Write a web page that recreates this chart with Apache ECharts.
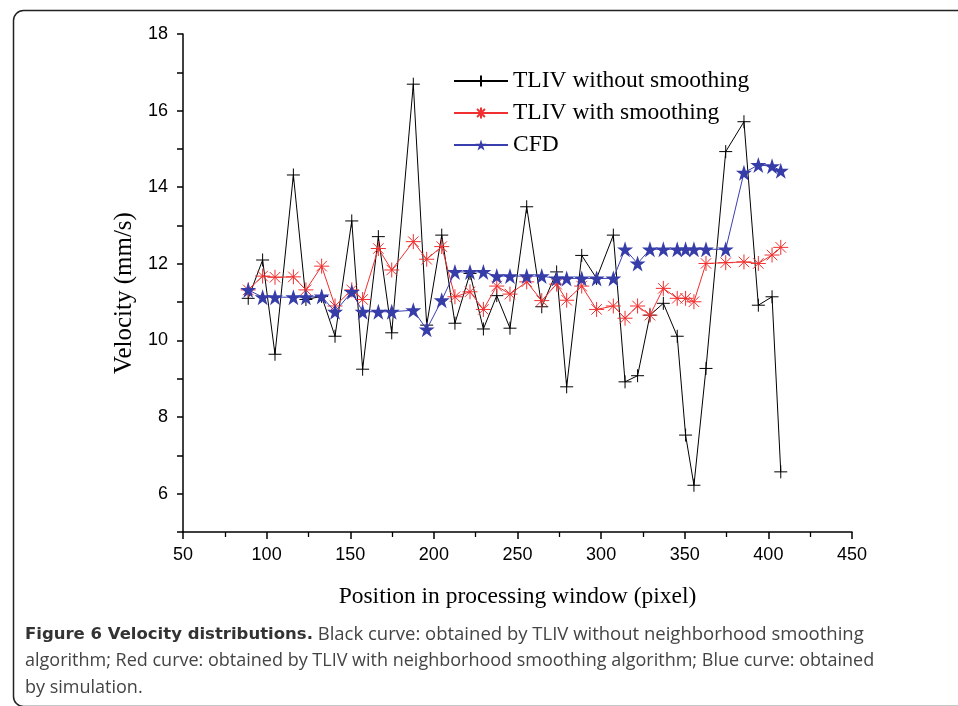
<!DOCTYPE html>
<html>
<head>
<meta charset="utf-8">
<script src="https://cdn.jsdelivr.net/npm/echarts@6/dist/echarts.min.js"></script>
<style>
html,body{margin:0;padding:0;background:#fff;}
#chart{width:958px;height:706px;}
</style>
</head>
<body>
<div id="chart"></div>
<script>
const positions = [89, 97.6, 105, 116, 123.5, 132.9, 140.9, 150.9, 157.4, 166.8, 174.8, 187.7, 195.7, 204.7, 212.6, 221.6, 229.6, 237.6, 245.5, 255.5, 264.5, 273.4, 279.4, 288.4, 297.3, 307.3, 314.3, 321.8, 329.2, 337.2, 345.5, 350.5, 355.5, 362.7, 374.5, 385.4, 394, 402.2, 407.4];
const tlivWithout = [11.10, 12.10, 9.64, 14.32, 11.07, 11.15, 10.11, 13.12, 9.25, 12.71, 10.20, 16.69, 10.40, 12.75, 10.45, 11.75, 10.30, 11.17, 10.32, 13.49, 10.88, 11.79, 8.79, 12.22, 11.62, 12.75, 8.92, 9.08, 10.66, 10.97, 10.11, 7.53, 6.22, 9.27, 14.93, 15.71, 10.92, 11.14, 6.57];
const tlivWith = [11.32, 11.68, 11.65, 11.66, 11.32, 11.94, 10.90, 11.32, 11.07, 12.40, 11.84, 12.58, 12.12, 12.45, 11.14, 11.27, 10.81, 11.42, 11.21, 11.53, 11.04, 11.47, 11.05, 11.42, 10.81, 10.90, 10.58, 10.90, 10.66, 11.36, 11.10, 11.10, 11.01, 12.01, 12.03, 12.05, 12.01, 12.23, 12.43];
const cfd = [11.32, 11.13, 11.13, 11.13, 11.13, 11.15, 10.75, 11.27, 10.75, 10.75, 10.75, 10.79, 10.29, 11.05, 11.79, 11.79, 11.79, 11.68, 11.68, 11.68, 11.68, 11.62, 11.62, 11.62, 11.62, 11.62, 12.38, 12.01, 12.38, 12.38, 12.38, 12.38, 12.38, 12.38, 12.38, 14.38, 14.58, 14.55, 14.43];
const seriesNames = ['TLIV without smoothing', 'TLIV with smoothing', 'CFD'];
const xAxisName = 'Position in processing window (pixel)';
const yAxisName = 'Velocity (mm/s)';
const captionBold = 'Figure 6 Velocity distributions.';
const captionLines = [
  ' Black curve: obtained by TLIV without neighborhood smoothing',
  'algorithm; Red curve: obtained by TLIV with neighborhood smoothing algorithm; Blue curve: obtained',
  'by simulation.'
];

const pair = arr => positions.map((x, i) => [x, arr[i]]);
const plusPath = 'path://M0,10L20,10M10,0L10,20';
const asteriskPath = 'path://M0,10L20,10M10,0L10,20M3,3L17,17M17,3L3,17';
const starPath = 'path://M10,0L12.35,7.25L19.9,7.25L13.8,11.75L16.15,19L10,14.5L3.85,19L6.2,11.75L0.1,7.25L7.65,7.25Z';

const chart = echarts.init(document.getElementById('chart'));
const axisFont = 'Liberation Sans';
const serif = 'Liberation Serif';
const option = {
  backgroundColor: '#fff',
  animation: false,
  grid: {left: 183, top: 34, right: 106, bottom: 174, containLabel: false},
  xAxis: {
    type: 'value', min: 50, max: 450, interval: 50,
    name: xAxisName, nameLocation: 'middle', nameGap: 53,
    nameTextStyle: {fontFamily: serif, fontSize: 23.5, color: '#000'},
    axisLine: {show: true, onZero: false, lineStyle: {color: '#000', width: 1.5}},
    axisTick: {show: true, inside: false, length: 7, lineStyle: {color: '#000', width: 1.5}},
    minorTick: {show: true, splitNumber: 2, length: 5, lineStyle: {color: '#000', width: 1.3}},
    axisLabel: {fontFamily: axisFont, fontSize: 18, color: '#000', margin: 14},
    splitLine: {show: false}
  },
  yAxis: {
    type: 'value', min: 5, max: 18, interval: 1,
    name: yAxisName, nameLocation: 'middle', nameGap: 43, nameRotate: 90,
    nameTextStyle: {fontFamily: serif, fontSize: 25, color: '#000', padding: [0, 20, 0, 0]},
    axisLine: {show: true, onZero: false, lineStyle: {color: '#000', width: 1.5}},
    axisTick: {show: true, inside: false, length: 6, lineStyle: {color: '#000', width: 1.5}},
    axisLabel: {fontFamily: axisFont, fontSize: 18, color: '#000', margin: 15,
      formatter: v => (v % 2 === 0 ? String(v) : '')},
    splitLine: {show: false}
  },
  legend: {
    orient: 'vertical', left: 448, top: 64, itemWidth: 54, itemHeight: 14, itemGap: 8,
    textStyle: {fontFamily: serif, fontSize: 23.5, color: '#000'},
    data: seriesNames
  },
  series: [
    {
      name: seriesNames[0], type: 'line', data: pair(tlivWithout),
      symbol: plusPath, symbolSize: 13,
      lineStyle: {color: '#000', width: 1},
      itemStyle: {color: '#000', borderColor: '#000', borderWidth: 1},
      z: 2
    },
    {
      name: seriesNames[1], type: 'line', data: pair(tlivWith),
      symbol: asteriskPath, symbolSize: 15,
      lineStyle: {color: '#f03030', width: 1},
      itemStyle: {color: '#f03030', borderColor: '#f03030', borderWidth: 1},
      z: 3
    },
    {
      name: seriesNames[2], type: 'line', data: pair(cfd),
      symbol: starPath, symbolSize: 16,
      lineStyle: {color: '#3a3fb0', width: 1},
      itemStyle: {color: '#363ca8', borderColor: '#363ca8', borderWidth: 0},
      z: 4
    }
  ],
  graphic: [
    {type: 'rect', left: 11, top: 8, shape: {width: 980, height: 696, r: 10},
      style: {fill: 'none', stroke: '#222', lineWidth: 1.5}, silent: true},
    {type: 'text', left: 25, top: 625, style: {
      rich: {b: {fontFamily: 'DejaVu Sans', fontWeight: 'bold', fontSize: 16.5, fill: '#333'},
             n: {fontFamily: 'Open Sans', fontSize: 18.5, fill: '#444'}},
      text: '{b|' + captionBold + '}{n|' + captionLines[0] + '}'
    }},
    {type: 'text', left: 25, top: 652, style: {text: captionLines[1], fontFamily: 'Open Sans', fontSize: 18, fill: '#444'}},
    {type: 'text', left: 25, top: 679, style: {text: captionLines[2], fontFamily: 'Open Sans', fontSize: 18, fill: '#444'}}
  ]
};
chart.setOption(option);
</script>
</body>
</html>
